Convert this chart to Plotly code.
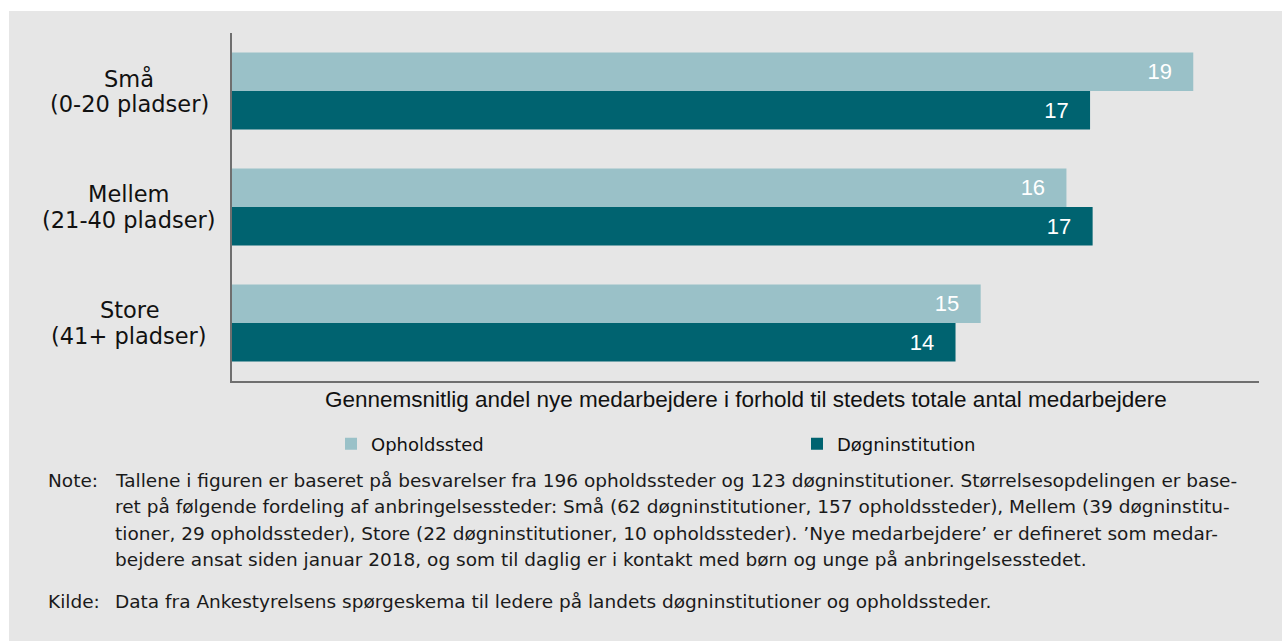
import plotly.graph_objects as go

# ---- data ----
categories = ["Små<br>(0-20 pladser)", "Mellem<br>(21-40 pladser)", "Store<br>(41+ pladser)"]
series_names = ["Opholdssted", "Døgninstitution"]
opholdssted = [18.72, 16.25, 14.58]
dogninstitution = [16.71, 16.76, 14.09]
x_title = "Gennemsnitlig andel nye medarbejdere i forhold til stedets totale antal medarbejdere"
note_label = "Note:"
note_lines = [
    "Tallene i figuren er baseret på besvarelser fra 196 opholdssteder og 123 døgninstitutioner. Størrelsesopdelingen er base-",
    "ret på følgende fordeling af anbringelsessteder: Små (62 døgninstitutioner, 157 opholdssteder), Mellem (39 døgninstitu-",
    "tioner, 29 opholdssteder), Store (22 døgninstitutioner, 10 opholdssteder). ’Nye medarbejdere’ er defineret som medar-",
    "bejdere ansat siden januar 2018, og som til daglig er i kontakt med børn og unge på anbringelsesstedet.",
]
source_label = "Kilde:"
source_text = "Data fra Ankestyrelsens spørgeskema til ledere på landets døgninstitutioner og opholdssteder."

# ---- layout constants ----
W, H = 1282, 641
L, R, T, B = 232, 23, 33, 260
PW, PH = W - L - R, H - T - B
LIGHT = "#9ac1c8"
DARK = "#006370"
BG = "#e6e6e6"
VERDANA = "Verdana, DejaVu Sans, sans-serif"
ARIAL = "Arial, Liberation Sans, sans-serif"


def px_x(p):
    return (p - L) / PW


def px_y(p):
    return (H - B - p) / PH


NB = "\u00a0\u00a0\u00a0"

fig = go.Figure()
for name, vals, col in [(series_names[0], opholdssted, LIGHT), (series_names[1], dogninstitution, DARK)]:
    fig.add_trace(go.Bar(
        y=categories, x=vals, name=name, orientation="h",
        marker=dict(color=col, line=dict(width=0)),
        text=[f"{v:.0f}{NB}" for v in vals],
        textposition="inside", insidetextanchor="end",
        textfont=dict(family=ARIAL, size=22, color="white"),
        constraintext="none", cliponaxis=False,
    ))

annotations = []
# category labels (centered lines)
for c in categories:
    lines = c.split("<br>")
    for i, ln in enumerate(lines):
        annotations.append(dict(
            x=px_x(129), xref="paper", y=c, yref="y", text=ln, showarrow=False,
            xanchor="center", yanchor="middle", align="center",
            yshift=13 - 26 * i,
            font=dict(family=VERDANA, size=22.5, color="#111111"),
        ))

# x axis title
annotations.append(dict(
    x=px_x(746), xref="paper", y=px_y(399), yref="paper", text=x_title,
    showarrow=False, xanchor="center", yanchor="middle",
    font=dict(family=ARIAL, size=22.5, color="#111111"),
))

note_font = dict(family=VERDANA, size=18.5, color="#1a1a1a")
note_y = [480, 506, 533, 559]
annotations.append(dict(x=px_x(46), xref="paper", y=px_y(note_y[0]), yref="paper",
                        text=note_label, showarrow=False, xanchor="left", yanchor="middle", font=note_font))
for ln, yy in zip(note_lines, note_y):
    annotations.append(dict(x=px_x(113), xref="paper", y=px_y(yy), yref="paper",
                            text=ln, showarrow=False, xanchor="left", yanchor="middle", font=note_font))
annotations.append(dict(x=px_x(46), xref="paper", y=px_y(601), yref="paper",
                        text=source_label, showarrow=False, xanchor="left", yanchor="middle", font=note_font))
annotations.append(dict(x=px_x(113), xref="paper", y=px_y(601), yref="paper",
                        text=source_text, showarrow=False, xanchor="left", yanchor="middle", font=note_font))

fig.update_layout(
    width=W, height=H,
    margin=dict(l=L, r=R, t=T, b=B, pad=0),
    paper_bgcolor="white", plot_bgcolor="rgba(0,0,0,0)",
    barmode="group", bargap=0.337, bargroupgap=0,
    showlegend=True,
    legend=dict(orientation="h", x=px_x(331), xanchor="left", y=px_y(444), yanchor="middle",
                entrywidth=421, entrywidthmode="pixels",
                font=dict(family=VERDANA, size=18, color="#111111"),
                bgcolor="rgba(0,0,0,0)", itemclick=False),
    xaxis=dict(range=[0, 20], showgrid=False, zeroline=False, showticklabels=False,
               ticks="", showline=True, linecolor="#6f6f6f", linewidth=1.5),
    yaxis=dict(range=[2.5, -0.5], showgrid=False, zeroline=False, showticklabels=False,
               ticks="", showline=True, linecolor="#6f6f6f", linewidth=1.5),
    annotations=annotations,
    shapes=[dict(type="rect", xref="paper", yref="paper", layer="below",
                 x0=px_x(9), x1=px_x(W + 5), y0=px_y(H + 5), y1=px_y(11),
                 fillcolor=BG, line=dict(width=0))],
)

fig.write_html("out.html", config={"displayModeBar": False},
               post_script="document.body.style.margin='0';")
